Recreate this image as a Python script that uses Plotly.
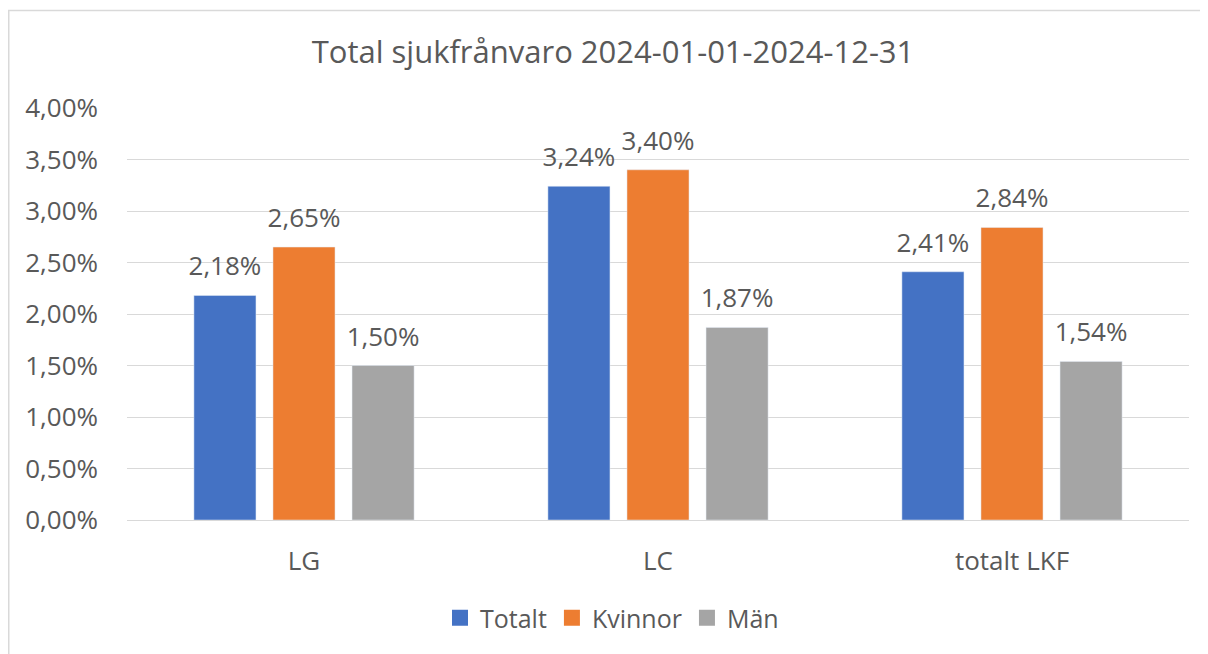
import plotly.graph_objects as go

categories = ["LG", "LC", "totalt LKF"]
totalt = [0.0218, 0.0324, 0.0241]
kvinnor = [0.0265, 0.0340, 0.0284]
man = [0.0150, 0.0187, 0.0154]
series_names = ["Totalt", "Kvinnor", "Män"]
colors = ["#4472C4", "#ED7D31", "#A5A5A5"]

FONT = "Open Sans"
TXT = "#595959"

# page has an 8px body margin: figure coords = image coords - 8
W, H = 1200, 646
L, T = 119, 100
PW, PH = 1062, 412
GAP = 0.33

fig = go.Figure()
for name, vals, col in zip(series_names, [totalt, kvinnor, man], colors):
    fig.add_trace(go.Bar(
        x=categories, y=vals, name=name, marker_color=col,
        offsetgroup=name, showlegend=False,
    ))
# value labels, grouped to the same slots as the bars
for name, vals in zip(series_names, [totalt, kvinnor, man]):
    fig.add_trace(go.Scatter(
        x=categories, y=vals, mode="markers+text", offsetgroup=name,
        text=[f"{v*100:.2f}%".replace(".", ",") for v in vals],
        textposition="top center",
        textfont=dict(family=FONT, size=26, color=TXT),
        marker=dict(size=20, opacity=0), showlegend=False, hoverinfo="skip",
        cliponaxis=False,
    ))
# legend proxies with larger square symbols
for name, col in zip(series_names, colors):
    fig.add_trace(go.Scatter(
        x=[None], y=[None], mode="markers", name=name,
        marker=dict(symbol="square", size=17, color=col),
    ))

px = lambda v: (v - L) / PW          # figure pixel -> paper x
py = lambda v: (T + PH - v) / PH     # figure pixel -> paper y

fig.update_layout(
    width=W, height=H,
    margin=dict(l=L, r=W - L - PW, t=T, b=H - T - PH),
    paper_bgcolor="white", plot_bgcolor="white",
    separators=", ",
    barmode="group", bargap=GAP, bargroupgap=0.215,
    scattermode="group", scattergap=GAP,
    title=dict(text="Total sjukfrånvaro 2024-01-01-2024-12-31",
               x=605 / W, y=1 - 44 / H, xanchor="center", yanchor="middle",
               font=dict(family=FONT, size=31, color=TXT)),
    font=dict(family=FONT, color=TXT),
    legend=dict(orientation="h", x=px(604), xanchor="center",
                y=py(610), yanchor="middle",
                font=dict(family=FONT, size=25, color=TXT),
                traceorder="normal", itemsizing="trace"),
    yaxis=dict(range=[0, 0.04], dtick=0.005, tickformat=".2%",
               showgrid=True, gridcolor="#D9D9D9", gridwidth=1,
               zeroline=False, showline=False, ticks="",
               ticklabelstandoff=28,
               tickfont=dict(family=FONT, size=26, color=TXT)),
    xaxis=dict(showline=True, linecolor="#D9D9D9", linewidth=1, ticks="",
               ticklabelstandoff=18,
               tickfont=dict(family=FONT, size=26, color=TXT)),
    shapes=[
        dict(type="line", xref="paper", yref="paper",
             x0=px(0.75), x1=px(0.75), y0=py(2.5), y1=py(H + 5),
             line=dict(color="#D9D9D9", width=1.5), layer="below"),
        dict(type="line", xref="paper", yref="paper",
             x0=px(0.0), x1=px(W + 5), y0=py(2.5), y1=py(2.5),
             line=dict(color="#D9D9D9", width=1.5), layer="below"),
    ],
)

fig.write_html("out.html")
